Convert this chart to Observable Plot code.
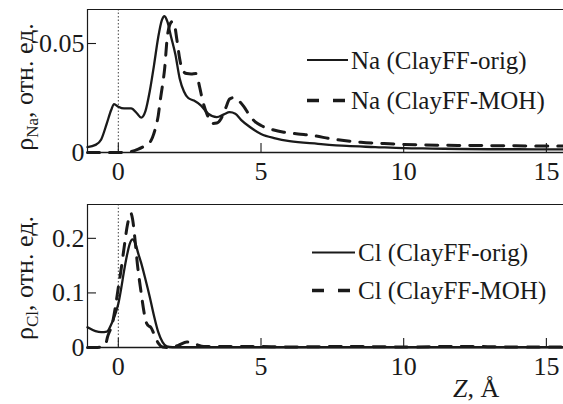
<!DOCTYPE html>
<html><head><meta charset="utf-8">
<script src="https://cdn.jsdelivr.net/npm/d3@7"></script>
<script src="https://cdn.jsdelivr.net/npm/@observablehq/plot@0.6"></script>
<style>
body{margin:0;background:#fff}
#c{width:563px;height:404px;overflow:hidden}
#c svg{display:block}
</style>
</head><body><div id="c"></div>
<script>
// ---- data ----
const xDomain = [-1.08, 15.6];
const xTicks = [0, 5, 10, 15];
const naYDomain = [0, 0.0656];
const naYTicks = [0, 0.05];
const clYDomain = [0, 0.262];
const clYTicks = [0, 0.1, 0.2];

const naOrigZ = [-1.08,-0.8,-0.6,-0.4,-0.25,-0.15,0,0.2,0.45,0.65,0.8,0.95,1.1,1.25,1.4,1.52,1.62,1.72,1.85,2.0,2.15,2.3,2.45,2.65,2.9,3.15,3.45,3.7,3.9,4.1,4.3,4.6,5.0,5.5,6.0,7.0,8.0,9.0,10,11,12,13,14,15,15.6];
const naOrigV = [0.0025,0.0035,0.006,0.0135,0.0195,0.0222,0.021,0.0202,0.0202,0.018,0.016,0.019,0.028,0.040,0.053,0.0605,0.0625,0.060,0.053,0.045,0.034,0.028,0.025,0.0238,0.0215,0.0178,0.0162,0.0175,0.0185,0.0178,0.015,0.0118,0.0085,0.0065,0.0052,0.004,0.003,0.0025,0.002,0.0018,0.0016,0.0015,0.0015,0.0014,0.0014];

const naMohZ = [-1.08,-0.5,0,0.4,0.7,0.9,1.08,1.2,1.31,1.4,1.47,1.55,1.62,1.72,1.8,1.88,1.95,2.05,2.15,2.25,2.4,2.55,2.72,2.85,2.95,3.1,3.3,3.45,3.6,3.75,3.9,4.05,4.2,4.4,4.6,4.8,5.0,5.4,5.8,6.3,6.8,7.5,8.5,9.5,10.5,11.5,12.5,13.5,14.5,15.6];
const naMohV = [0,0,0,0.0003,0.0015,0.0028,0.0042,0.007,0.0116,0.017,0.024,0.031,0.038,0.0535,0.0585,0.060,0.0595,0.052,0.043,0.0376,0.0362,0.036,0.0362,0.030,0.024,0.0178,0.0133,0.0135,0.0155,0.020,0.0245,0.0252,0.024,0.021,0.017,0.014,0.0124,0.0105,0.0093,0.0085,0.0078,0.0062,0.0047,0.004,0.0035,0.0033,0.0032,0.0031,0.003,0.003];

const clOrigZ = [-1.08,-0.8,-0.6,-0.4,-0.25,-0.1,0,0.1,0.2,0.3,0.4,0.5,0.6,0.7,0.8,0.95,1.1,1.25,1.4,1.55,1.7,1.9,2.5,4,6,8,10,12,14,15.6];
const clOrigV = [0.037,0.03,0.028,0.029,0.042,0.062,0.08,0.108,0.14,0.168,0.19,0.198,0.19,0.172,0.155,0.125,0.093,0.058,0.028,0.01,0.002,0.0005,0.0005,0.0005,0.0005,0.0005,0.0005,0.0005,0.0005,0.0005];

const clMohZ = [-1.08,-0.8,-0.6,-0.45,-0.38,-0.2,-0.1,0,0.09,0.2,0.32,0.44,0.5,0.58,0.67,0.79,0.9,0.96,1.05,1.14,1.25,1.4,1.55,1.8,2.1,2.4,2.7,3.0,4,5,6,8,10,12,14,15.6];
const clMohV = [0,0,0.001,0.005,0.019,0.046,0.075,0.11,0.14,0.182,0.225,0.246,0.235,0.2,0.152,0.104,0.065,0.049,0.04,0.037,0.025,0.008,0.001,0,0.004,0.01,0.006,0.002,0.002,0.002,0.001,0.002,0.001,0.002,0.001,0.001];

const naLegend = ["Na (ClayFF-orig)", "Na (ClayFF-MOH)"];
const clLegend = ["Cl (ClayFF-orig)", "Cl (ClayFF-MOH)"];
const xLabel = ["Z", ", Å"];
const naYLabel = ["ρ", "Na", ", отн. ед."];
const clYLabel = ["ρ", "Cl", ", отн. ед."];

// ---- helpers ----
const FONT = "'Liberation Serif','Times New Roman',serif";
const INK = "#1a1a1a";
const DASH = "12,10";
const W = 563, ML = 87, MR = 0, TICK = 9;
const pts = (Z, V) => Z.map((z, i) => ({z, v: V[i]}));

function panel({height, marginTop, marginBottom, yDomain, yTicks, yFmt, orig, moh}) {
  const innerH = height - marginTop - marginBottom;
  const innerW = W - ML - MR;
  return Plot.plot({
    width: W, height, marginLeft: ML, marginRight: MR, marginTop, marginBottom,
    style: {fontFamily: FONT, fontSize: "26px", background: "#fff", color: INK, overflow: "visible"},
    x: {domain: xDomain, label: null},
    y: {domain: yDomain, label: null},
    marks: [
      Plot.ruleX([0], {stroke: "#444", strokeWidth: 1, strokeDasharray: "1.5,2"}),
      Plot.ruleY([yDomain[1]], {stroke: INK, strokeWidth: 1.2}),
      Plot.ruleX([xDomain[0]], {stroke: INK, strokeWidth: 1.2}),
      Plot.ruleY([0], {stroke: INK, strokeWidth: 1.6}),
      Plot.axisX(xTicks, {tickSize: 0, tickPadding: 9, fill: INK, fontSize: 26, label: null}),
      Plot.axisY(yTicks, {tickSize: 0, tickPadding: 3, fill: INK, fontSize: 26, tickFormat: yFmt, label: null}),
      Plot.tickX(xTicks, {x: d => d, insetTop: innerH - TICK, stroke: INK, strokeWidth: 1.1}),
      Plot.tickY(yTicks.filter(d => d > 0), {y: d => d, insetRight: innerW - TICK, stroke: INK, strokeWidth: 1.1}),
      Plot.line(pts(orig[0], orig[1]), {x: "z", y: "v", curve: "monotone-x", stroke: INK, strokeWidth: 2.3}),
      Plot.line(pts(moh[0], moh[1]), {x: "z", y: "v", curve: "monotone-x", stroke: INK, strokeWidth: 3, strokeDasharray: DASH})
    ]
  });
}

function addLegend(svg, labels, x0, x1, xt, y1, y2) {
  const g = d3.select(svg).append("g").attr("font-family", FONT).attr("font-size", 25).attr("fill", INK).attr("text-anchor", "start");
  g.append("line").attr("x1", x0).attr("x2", x1).attr("y1", y1).attr("y2", y1).attr("stroke", INK).attr("stroke-width", 2.2);
  g.append("line").attr("x1", x0).attr("x2", x1).attr("y1", y2).attr("y2", y2).attr("stroke", INK).attr("stroke-width", 3.5).attr("stroke-dasharray", "12,14");
  g.append("text").attr("x", xt).attr("y", y1).attr("dy", "0.35em").text(labels[0]);
  g.append("text").attr("x", xt).attr("y", y2).attr("dy", "0.35em").text(labels[1]);
}

function addYLabel(svg, parts, x, y) {
  const t = d3.select(svg).append("text").attr("font-family", FONT).attr("font-size", 26).attr("fill", INK)
    .attr("text-anchor", "middle").attr("transform", `translate(${x},${y}) rotate(-90)`);
  t.append("tspan").text(parts[0]);
  t.append("tspan").attr("font-size", 17).attr("dy", 5).text(parts[1]);
  t.append("tspan").attr("dy", -5).text(parts[2]);
}

const fmtNa = d => d === 0 ? "0" : d3.format(".2f")(d);
const fmtCl = d => d === 0 ? "0" : d3.format(".1f")(d);

const topPlot = panel({height: 185, marginTop: 9, marginBottom: 33, yDomain: naYDomain, yTicks: naYTicks, yFmt: fmtNa, orig: [naOrigZ, naOrigV], moh: [naMohZ, naMohV]});
addLegend(topPlot, naLegend, 307, 348, 351, 60, 100.5);
addYLabel(topPlot, naYLabel, 33, 87);

const botPlot = panel({height: 219, marginTop: 19, marginBottom: 57, yDomain: clYDomain, yTicks: clYTicks, yFmt: fmtCl, orig: [clOrigZ, clOrigV], moh: [clMohZ, clMohV]});
addLegend(botPlot, clLegend, 312, 355, 358, 67.5, 105.5);
addYLabel(botPlot, clYLabel, 33, 93);
{
  const t = d3.select(botPlot).append("text").attr("font-family", FONT).attr("font-size", 26).attr("fill", INK)
    .attr("text-anchor", "start").attr("x", 453).attr("y", 212);
  t.append("tspan").attr("font-style", "italic").text(xLabel[0]);
  t.append("tspan").text(xLabel[1]);
}

document.getElementById("c").append(topPlot, botPlot);
</script>
</body></html>
